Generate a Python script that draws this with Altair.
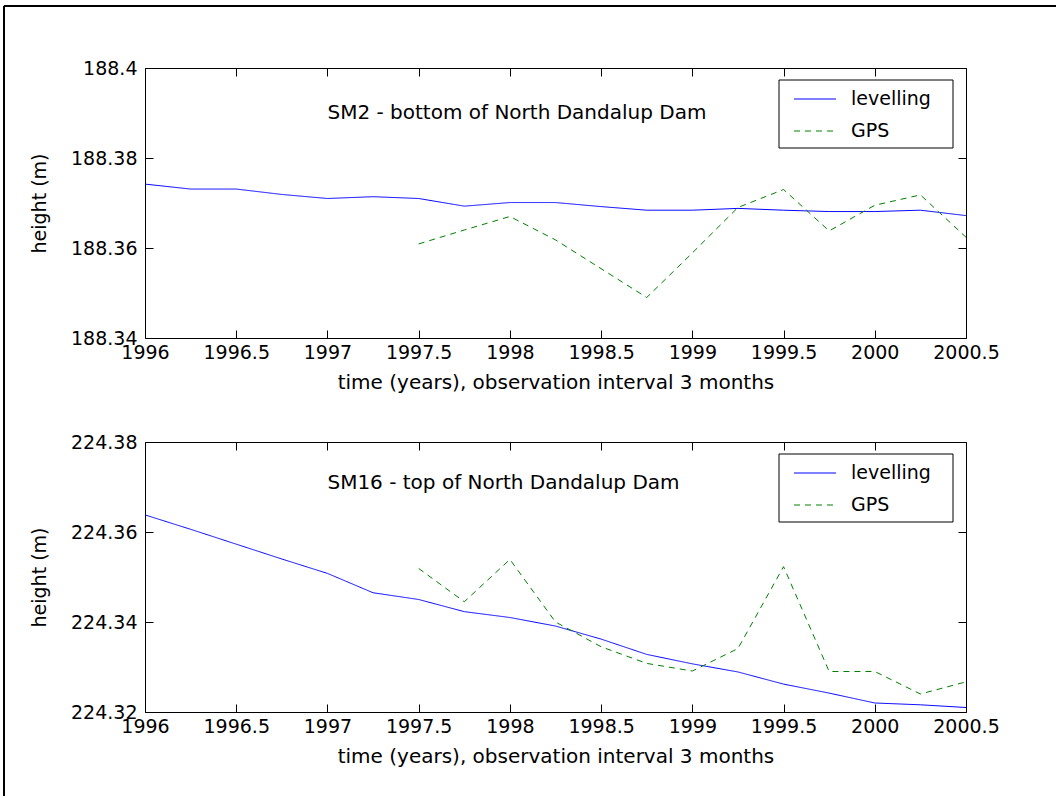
import altair as alt
import pandas as pd

FONT = "DejaVu Sans"
FONT_SIZE = 19
NOTE_SIZE = 20

# Quarterly observation epochs (years)
epochs = [1996.0, 1996.25, 1996.5, 1996.75, 1997.0, 1997.25, 1997.5, 1997.75,
          1998.0, 1998.25, 1998.5, 1998.75, 1999.0, 1999.25, 1999.5, 1999.75,
          2000.0, 2000.25, 2000.5]
gps_epochs = [1997.5, 1997.75, 1998.0, 1998.25, 1998.5, 1998.75, 1999.0,
              1999.25, 1999.5, 1999.75, 2000.0, 2000.25, 2000.5]

# SM2 - bottom of the dam (heights in m)
sm2_levelling = [188.3742, 188.3731, 188.3731, 188.3719, 188.3710, 188.3714,
                 188.3710, 188.3693, 188.3701, 188.3701, 188.3692, 188.3684,
                 188.3684, 188.3688, 188.3684, 188.3681, 188.3681, 188.3684,
                 188.3672]
sm2_gps = [188.3609, 188.3640, 188.3670, 188.3618, 188.3554, 188.3490,
           188.3589, 188.3690, 188.3730, 188.3638, 188.3695, 188.3718,
           188.3624]

# SM16 - top of the dam (heights in m)
sm16_levelling = [224.3638, 224.3606, 224.3573, 224.3540, 224.3508, 224.3465,
                  224.3450, 224.3423, 224.3410, 224.3391, 224.3362, 224.3328,
                  224.3307, 224.3289, 224.3262, 224.3242, 224.3220, 224.3216,
                  224.3210]
sm16_gps = [224.3519, 224.3445, 224.3539, 224.3400, 224.3345, 224.3308,
            224.3291, 224.3341, 224.3523, 224.3290, 224.3290, 224.3240,
            224.3267]

x_ticks = [1996, 1996.5, 1997, 1997.5, 1998, 1998.5, 1999, 1999.5, 2000, 2000.5]
sm2_ticks = [188.34, 188.36, 188.38, 188.40]
sm16_ticks = [224.32, 224.34, 224.36, 224.38]

series_names = ["levelling", "GPS"]
series_colors = ["#0000ff", "#008000"]
series_dashes = [[1, 0], [6, 5]]

x_title = "time (years), observation interval 3 months"
y_title = "height (m)"

sm2_label = "SM2 - bottom of North Dandalup Dam"
sm16_label = "SM16 - top of North Dandalup Dam"
label_year = 1997.0

PANEL_W = 821
PANEL_H = 270
TICK = 8


def one_row(**kw):
    return pd.DataFrame({k: [v] for k, v in kw.items()})


def legend_layers():
    """Boxed key in the upper right corner of a panel."""
    box = alt.Chart(one_row(k=0)).mark_rect(
        fill="white", stroke="black", strokeWidth=1
    ).encode(x=alt.value(634), x2=alt.value(808), y=alt.value(12), y2=alt.value(80))
    layers = [box]
    row_y = [31, 63]
    for name, col, dash, ry in zip(series_names, series_colors, series_dashes, row_y):
        sample = alt.Chart(one_row(k=0)).mark_rule(
            color=col, strokeDash=dash, strokeWidth=1
        ).encode(x=alt.value(649), x2=alt.value(691), y=alt.value(ry))
        text = alt.Chart(one_row(label=name)).mark_text(
            align="left", baseline="alphabetic", font=FONT, fontSize=FONT_SIZE,
            color="black"
        ).encode(x=alt.value(706), y=alt.value(ry + 6), text="label:N")
        layers += [sample, text]
    return layers


def panel(levelling, gps, y_ticks, label, label_height, outer_frame=False):
    lev = pd.DataFrame({"year": epochs, "height": levelling, "series": "levelling"})
    gp = pd.DataFrame({"year": gps_epochs, "height": gps, "series": "GPS"})

    xs = alt.Scale(domain=[x_ticks[0], x_ticks[-1]], nice=False, zero=False)
    ys = alt.Scale(domain=[y_ticks[0], y_ticks[-1]], nice=False, zero=False)
    color = alt.Color("series:N", legend=None,
                      scale=alt.Scale(domain=series_names, range=series_colors))
    dash = alt.StrokeDash("series:N", legend=None,
                          scale=alt.Scale(domain=series_names, range=series_dashes))

    # ticks point inwards on all four sides of the box
    bottom_axis = alt.Axis(orient="bottom", values=x_ticks, format="~g",
                           offset=-TICK, tickSize=TICK, domain=False, grid=False,
                           labelPadding=5, labelOverlap=False, labelFlush=False,
                           title=x_title, titlePadding=10, titleFontSize=NOTE_SIZE)
    left_axis = alt.Axis(orient="left", values=y_ticks, format="~g",
                         offset=-TICK, tickSize=TICK, domain=False, grid=False,
                         labelPadding=8, labelOverlap=False, labelFlush=False,
                         title=y_title, titlePadding=21)
    top_axis = alt.Axis(orient="top", values=x_ticks, offset=-TICK, tickSize=TICK,
                        domain=False, grid=False, labels=False, title=None)
    right_axis = alt.Axis(orient="right", values=y_ticks, offset=-TICK, tickSize=TICK,
                          domain=False, grid=False, labels=False, title=None)

    lev_line = alt.Chart(lev).mark_line(strokeWidth=1).encode(
        x=alt.X("year:Q", scale=xs, axis=bottom_axis),
        y=alt.Y("height:Q", scale=ys, axis=left_axis),
        color=color, strokeDash=dash,
    )
    gps_line = alt.Chart(gp).mark_line(strokeWidth=1).encode(
        x=alt.X("year:Q", scale=xs, axis=top_axis),
        y=alt.Y("height:Q", scale=ys, axis=right_axis),
        color=color, strokeDash=dash,
    )
    note = alt.Chart(one_row(year=label_year, height=label_height, text=label)).mark_text(
        align="left", baseline="middle", font=FONT, fontSize=NOTE_SIZE, color="black"
    ).encode(
        x=alt.X("year:Q", axis=None),
        y=alt.Y("height:Q", axis=None),
        text="text:N",
    )

    layers = [lev_line, gps_line, note] + legend_layers()

    if outer_frame:
        # figure border: top and left edges
        top_edge = alt.Chart(one_row(k=0)).mark_rule(color="black", strokeWidth=2).encode(
            x=alt.value(-141), x2=alt.value(911), y=alt.value(-62))
        left_edge = alt.Chart(one_row(k=0)).mark_rule(color="black", strokeWidth=2).encode(
            x=alt.value(-141), y=alt.value(-62), y2=alt.value(728))
        layers += [top_edge, left_edge]

    return alt.layer(*layers).resolve_axis(x="independent", y="independent").properties(
        width=PANEL_W, height=PANEL_H)


top = panel(sm2_levelling, sm2_gps, sm2_ticks, sm2_label, 188.39, outer_frame=True)
bottom = panel(sm16_levelling, sm16_gps, sm16_ticks, sm16_label, 224.371)

chart = alt.vconcat(top, bottom, spacing=104, bounds="flush").properties(
    padding={"left": 2, "top": 4, "right": 0, "bottom": 0},
    background="white",
).configure_view(
    stroke="black", strokeWidth=1
).configure_axis(
    labelFont=FONT, labelFontSize=FONT_SIZE, labelColor="black",
    titleFont=FONT, titleFontSize=FONT_SIZE, titleColor="black",
    titleFontWeight="normal", tickColor="black", tickWidth=1,
)

chart.save("out.html", embed_options={"renderer": "svg", "actions": False})
